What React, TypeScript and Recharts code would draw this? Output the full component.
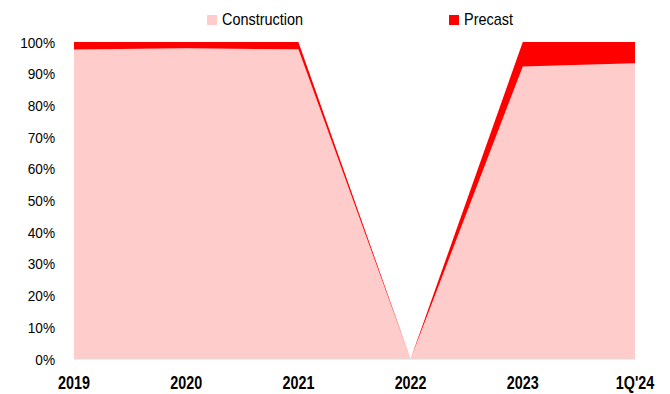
import React from "react";
import { AreaChart, Area, XAxis, YAxis, Legend } from "recharts";

const periods = ["2019", "2020", "2021", "2022", "2023", "1Q'24"];
const construction = [97.6, 98.0, 97.7, 0, 92.3, 93.3];
const precast = [2.4, 2.0, 2.3, 0, 7.7, 6.7];
const yTicks = [0, 10, 20, 30, 40, 50, 60, 70, 80, 90, 100];

const data = periods.map((p, i) => ({ period: p, Construction: construction[i], Precast: precast[i] }));

const FONT = "'Liberation Sans', Arial, sans-serif";

const LegendContent = () => (
  <div style={{ position: "relative", height: 30, width: 670, fontFamily: FONT, fontSize: 17, color: "#000" }}>
    <div style={{ position: "absolute", left: 207, top: 10, display: "flex", alignItems: "center" }}>
      <span style={{ display: "inline-block", width: 10, height: 10, background: "#FFCCCC", marginRight: 5 }} />
      <span style={{ display: "inline-block", transform: "scaleX(0.85)", transformOrigin: "left center", whiteSpace: "nowrap" }}>Construction</span>
    </div>
    <div style={{ position: "absolute", left: 449, top: 10, display: "flex", alignItems: "center" }}>
      <span style={{ display: "inline-block", width: 10, height: 10, background: "#FF0000", marginRight: 5 }} />
      <span style={{ display: "inline-block", transform: "scaleX(0.85)", transformOrigin: "left center", whiteSpace: "nowrap" }}>Precast</span>
    </div>
  </div>
);

const YTick = (props: any) => {
  const { x, y, payload } = props;
  return (
    <g transform={`translate(${x},${y})`}>
      <text x={0} y={0} dy="0.355em" textAnchor="end" transform="scale(0.88,1)" fontFamily={FONT} fontSize={15.5} fill="#000">
        {`${payload.value}%`}
      </text>
    </g>
  );
};

const XTick = (props: any) => {
  const { x, y, payload } = props;
  return (
    <g transform={`translate(${x},${y})`}>
      <text x={0} y={0} dy="0.71em" textAnchor="middle" transform="scale(0.82,1)" fontFamily={FONT} fontSize={17.5} fontWeight="bold" fill="#000">
        {payload.value}
      </text>
    </g>
  );
};

export default function App() {
  return (
    <div style={{ position: "absolute", left: 0, top: 0, width: 670, height: 394, background: "#fff" }}>
      <AreaChart width={670} height={394} data={data} margin={{ top: 12, right: 35, bottom: 5, left: 0 }}>
        <Legend verticalAlign="top" align="left" content={<LegendContent />} wrapperStyle={{ top: 0, left: 0 }} />
        <XAxis
          dataKey="period"
          interval={0}
          height={30}
          tickLine={false}
          axisLine={{ stroke: "#d9d9d9" }}
          tickMargin={12}
          tick={<XTick />}
        />
        <YAxis
          domain={[0, 100]}
          ticks={yTicks}
          width={74}
          tickLine={false}
          axisLine={false}
          tickMargin={13}
          tick={<YTick />}
        />
        <Area type="linear" dataKey="Construction" stackId="a" fill="#FFCCCC" fillOpacity={1} stroke="none" isAnimationActive={false} />
        <Area type="linear" dataKey="Precast" stackId="a" fill="#FF0000" fillOpacity={1} stroke="none" isAnimationActive={false} />
      </AreaChart>
    </div>
  );
}
